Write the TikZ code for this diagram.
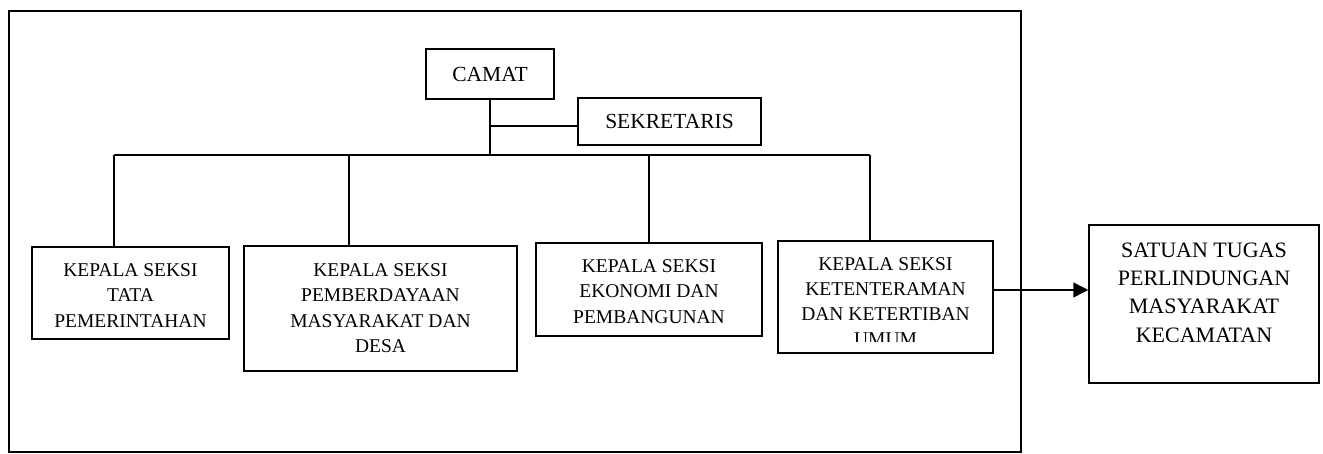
\documentclass[tikz,border=0pt]{standalone}
\usepackage{fontspec}
\setmainfont{Liberation Serif}
\usetikzlibrary{arrows.meta}
\begin{document}
\begin{tikzpicture}[x=1pt,y=-1pt,line width=1.5pt,
  box/.style={draw,line width=1.5pt,inner sep=0pt},
  bigtext/.style={font=\fontsize{21.5}{28}\selectfont},
  multi/.style={font=\fontsize{19.5}{25.3}\selectfont,align=center,inner sep=0pt,anchor=north},
  multibig/.style={font=\fontsize{22}{28.3}\selectfont,align=center,inner sep=0pt,anchor=north},
  link/.style={draw,line width=1.5pt}]
\useasboundingbox (0,0) rectangle (1323,454);
% outer frame
\node[box,minimum width=1012pt,minimum height=441pt] (frame) at (515,231.5) {};
% top boxes
\node[box,bigtext,minimum width=128pt,minimum height=50pt] (camat) at (490,74) {CAMAT};
\node[box,bigtext,minimum width=183pt,minimum height=47pt] (sek) at (669.5,121.5) {SEKRETARIS};
% section boxes
\node[box,minimum width=197pt,minimum height=92pt] (k1) at (130.5,293) {};
\node[box,minimum width=273pt,minimum height=125pt] (k2) at (380.5,308.5) {};
\node[box,minimum width=226pt,minimum height=93pt] (k3) at (649,289.5) {};
\node[box,minimum width=215pt,minimum height=112pt] (k4) at (885.5,297) {};
\node[box,minimum width=230pt,minimum height=158pt] (k5) at (1204,304) {};
% texts
\node[multi] (t1) at (130.5,263) {KEPALA SEKSI\\TATA\\PEMERINTAHAN};
\node[multi] (t2) at (380.5,263) {KEPALA SEKSI\\PEMBERDAYAAN\\MASYARAKAT DAN\\DESA};
\node[multi] (t3) at (649,259) {KEPALA SEKSI\\EKONOMI DAN\\PEMBANGUNAN};
\begin{scope}
  \clip (778,241) rectangle (993,342);
  \node[multi,font=\fontsize{19.5}{25}\selectfont] (t4) at (885.5,257) {KEPALA SEKSI\\KETENTERAMAN\\DAN KETERTIBAN\\UMUM};
\end{scope}
\node[multibig] (t5) at (1204,242) {SATUAN TUGAS\\PERLINDUNGAN\\MASYARAKAT\\KECAMATAN};
% connectors
\coordinate (b1) at (114,155);
\coordinate (b2) at (349,155);
\coordinate (b3) at (649,155);
\coordinate (b4) at (870,155);
\coordinate (sj) at (490,126);
\draw[link] (camat.south) -- (camat.south |- b1);
\draw[link] (sj) -- (sj -| sek.west);
\draw[link] (b1) -- (b4);
\draw[link] (b1) -- (b1 |- k1.north);
\draw[link] (b2) -- (b2 |- k2.north);
\draw[link] (b3) -- (b3 |- k3.north);
\draw[link] (b4) -- (b4 |- k4.north);
\draw[link,-{Triangle[length=15pt,width=15pt]}] ([yshift=7pt]k4.east) -- ([yshift=7pt]k4.east -| k5.west);
\end{tikzpicture}
\end{document}
